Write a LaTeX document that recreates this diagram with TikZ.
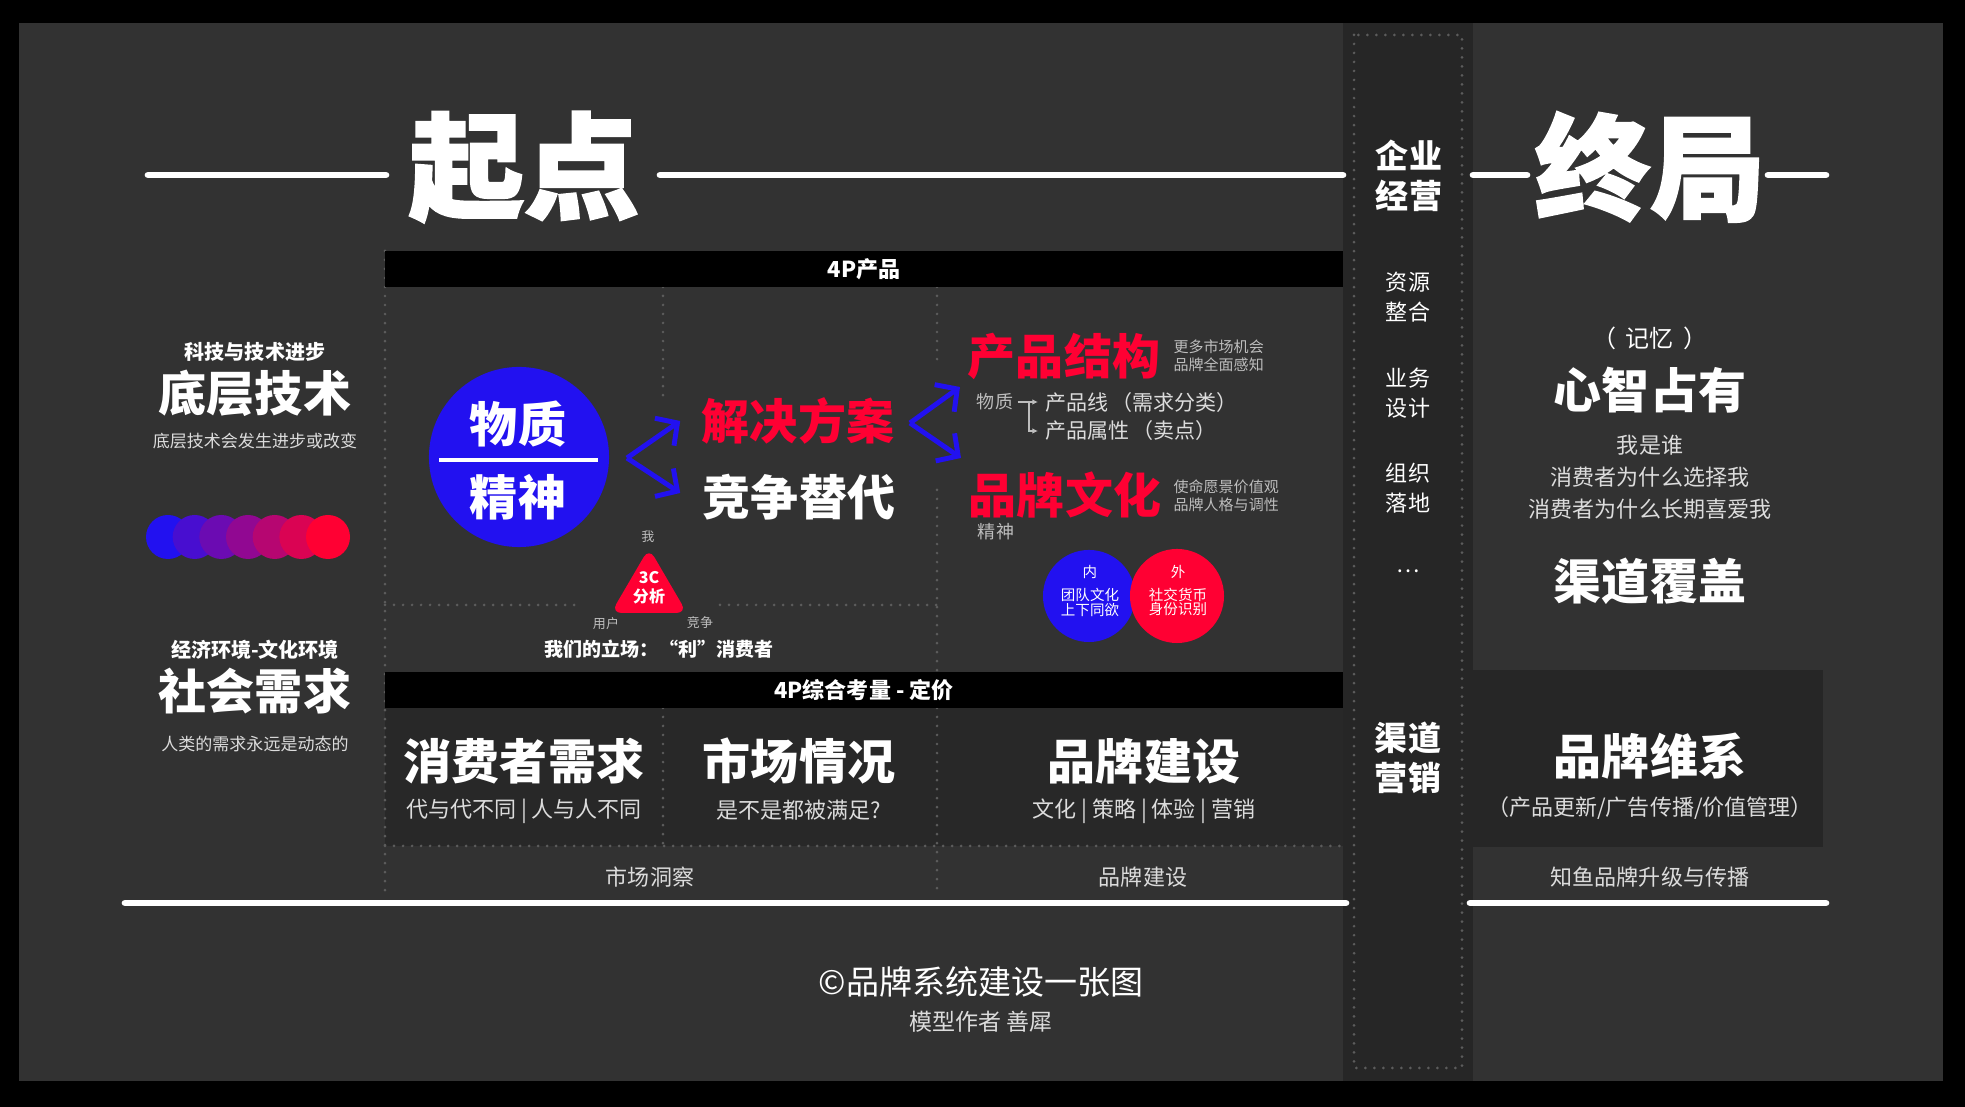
\documentclass[tikz,border=0pt]{standalone}
\usepackage{fontspec}
\setmainfont{Noto Sans CJK SC}
\newfontfamily\heavyfont{Noto Sans CJK SC}[BoldFeatures={FakeBold=2}]
\usetikzlibrary{arrows.meta}
\usetikzlibrary{positioning}

% font size given in pixels of the 1965px wide picture
\newcommand\fpx[2][1.3]{\fontsize{\fpeval{#2*0.28453}}{\fpeval{#2*#1*0.28453}}\selectfont}

\definecolor{panelgray}{HTML}{323232}
\definecolor{stripgray}{HTML}{262626}
\definecolor{boxgray}{HTML}{282828}
\definecolor{dotgray}{HTML}{5C5C5C}
\definecolor{subgray}{HTML}{DCDCDC}
\definecolor{notegray}{HTML}{BDBDBD}
\definecolor{brandblue}{HTML}{2211F0}
\definecolor{brandred}{HTML}{FF0033}

\tikzset{
  txt/.style={text=white, inner sep=0pt},
  title/.style={txt, font={\heavyfont\bfseries\fpx{115}}},
  heading/.style={txt, font={\bfseries\fpx{48}}},
  labelhead/.style={txt, font={\bfseries\fpx{20}}},
  leftsub/.style={text=subgray, inner sep=0pt, font={\fpx{17}}},
  subline/.style={text=subgray, inner sep=0pt, font={\fpx{22}}},
  note/.style={text=notegray, inner sep=0pt, align=left, font={\fpx[1.22]{15}}},
  tiny/.style={text=notegray, inner sep=0pt, font={\fpx{13}}},
  smalllabel/.style={text=notegray, inner sep=0pt, font={\fpx{18}}},
  listitem/.style={text=subgray, inner sep=0pt, font={\fpx{21}}},
  circletext/.style={txt, align=center, font={\fpx[1.03]{14.5}}},
  sidebar/.style={txt, align=center, font={\fpx[1.36]{22}}},
  sidehead/.style={txt, align=center, font={\bfseries\fpx[1.22]{33}}},
  blackbar/.style={fill=black, text=white, inner sep=0pt, minimum width=9.58cm,
    minimum height=0.36cm, font={\bfseries\fpx{22}}},
  dotline/.style={draw=dotgray, line width=0.85pt, line cap=round, dash pattern=on 0pt off 2.56pt},
  whiterule/.style={draw=white, line width=1.9pt, line cap=round},
  forkarrow/.style={draw=brandblue, line width=1.4pt, -{Straight Barb[length=4.5pt,width=9.5pt]}},
  bracketline/.style={draw=notegray, line width=0.5pt, -{Latex[length=1.6pt,width=1.6pt]}},
}

\begin{document}
\begin{tikzpicture}[x=0.01cm, y=-0.01cm]
  \useasboundingbox (0,0) rectangle (1965,1107);

  % Background panels
  \fill[black] (0,0) rectangle (1965,1107);
  \fill[panelgray] (19,23) rectangle (1943,1081);
  \fill[stripgray] (1343,23) rectangle (1473,1081);
  \fill[boxgray] (385,708) rectangle (1343,846);
  \fill[stripgray] (1473,670) rectangle (1823,847);

  % Dotted grid
  \draw[dotline] (1354,35) rectangle (1462,1068);
  \draw[dotline] (385,251) -- (385,897);
  \draw[dotline] (663,287) -- (663,397);
  \draw[dotline] (663,708) -- (663,846);
  \draw[dotline] (937,287) -- (937,362);
  \draw[dotline] (937,490) -- (937,672);
  \draw[dotline] (937,708) -- (937,897);
  \draw[dotline] (385,605) -- (578,605);
  \draw[dotline] (720,605) -- (937,605);
  \draw[dotline] (385,846) -- (1343,846);

  % Black bars
  \node[blackbar] (prodbar) at (864,269) {4P产品};
  \node[blackbar] (pricebar) at (864,690) {4P综合考量 - 定价};

  % Title row
  \draw[whiterule] (148,175) -- (386,175);
  \draw[whiterule] (660,175) -- (1343,175);
  \draw[whiterule] (1473,175) -- (1527,175);
  \draw[whiterule] (1768,175) -- (1826,175);
  \node[title] (start) at (524,167) {起点};
  \node[title] (finale) at (1650,167) {终局};

  % Operations strip
  \node[sidehead] (ops) at (1409,176) {企业\\经营};
  \foreach \name/\lab/\y in {res/资源\\整合/297, biz/业务\\设计/393, org/组织\\落地/488} {
    \node[sidebar] (side-\name) at (1408,\y) {\lab};
  }
  \node[sidebar] (side-more) at (1408,571) {…};
  \node[sidehead] (side-channel) at (1408,758) {渠道\\营销};

  % Left column
  \node[heading] (tech) at (255,393) {底层技术};
  \node[labelhead, above=0.07cm of tech] (techtop) {科技与技术进步};
  \node[leftsub, below=0.15cm of tech] (techsub) {底层技术会发生进步或改变};
  \foreach \i in {0,...,6} {
    \pgfmathtruncatemacro{\pct}{round(\i*100/6)}
    \fill[brandred!\pct!brandblue] ({168+26.67*\i},537) circle (22);
  }
  \node[heading] (social) at (255,691) {社会需求};
  \node[labelhead, above=0.07cm of social] (socialtop) {经济环境-文化环境};
  \node[leftsub, below=0.21cm of social] (socialsub) {人类的需求永远是动态的};

  % Matter / spirit circle
  \node[circle, fill=brandblue, minimum size=1.8cm, inner sep=0pt] (core) at (519,457) {};
  \draw[white, line width=1.1pt] (439,460) -- (598,460);
  \node[heading] (matter) at (518,424) {物质};
  \node[heading] (spirit) at (518,497) {精神};

  % First fork
  \coordinate (forkL) at (627,458);
  \node[heading, text=brandred] (solution) at (798,421) {解决方案};
  \node[heading] (rival) at (799,497) {竞争替代};
  \draw[forkarrow] (forkL) -- ([xshift=-0.21cm]solution.west);
  \draw[forkarrow] (forkL) -- ([xshift=-0.22cm, yshift=0.04cm]rival.west);

  % 3C analysis
  \fill[brandred, rounded corners=3pt] (649,548) -- (687,613) -- (611,613) -- cycle;
  \node[txt, align=center, font={\bfseries\fpx[1.19]{16}}] (threec) at (649,588) {3C\\分析};
  \node[tiny] (me) at (648,537) {我};
  \node[tiny] (user) at (606,624) {用户};
  \node[tiny] (comp) at (700,623) {竞争};
  \node[txt, font={\bfseries\fpx{19}}] (stance) at (659,649) {我们的立场：“利”消费者};

  % Second fork
  \coordinate (forkR) at (910,423);
  \coordinate (forkRa) at (960,387);
  \coordinate (forkRb) at (961,458);
  \draw[forkarrow] (forkR) -- (forkRa);
  \draw[forkarrow] (forkR) -- (forkRb);

  % Product structure
  \node[heading, text=brandred] (structure) at (1064,356) {产品结构};
  \node[note, anchor=west] (structnote) at (1173,356) {更多市场机会\\品牌全面感知};
  \node[smalllabel] (mat2) at (995,402) {物质};
  \node[listitem, anchor=west] (pline) at (1045,403) {产品线\kern0.15em（需求分类）};
  \node[listitem, anchor=west] (pattr) at (1045,431) {产品属性\kern0.15em（卖点）};
  \coordinate (brk) at (1029,402);
  \draw[bracketline, shorten <=1.1pt, shorten >=2pt] (mat2.east) -- (pline.west |- mat2.east);
  \draw[bracketline, shorten >=2pt] (brk) |- (pattr.west);

  % Brand culture
  \node[heading, text=brandred] (culture) at (1065,495) {品牌文化};
  \node[note, anchor=west] (culturenote) at (1173,496) {使命愿景价值观\\品牌人格与调性};
  \node[smalllabel] (spirit2) at (996,532) {精神};
  \node[circle, fill=brandblue, minimum size=0.92cm, inner sep=0pt] (inner) at (1089,596) {};
  \node[circle, fill=brandred, minimum size=0.94cm, inner sep=0pt] (outer) at (1177,596) {};
  \node[circletext] (innerhead) at (1090,572) {内};
  \node[circletext] (innerbody) at (1090,602) {团队文化\\上下同欲};
  \node[circletext] (outerhead) at (1178,572) {外};
  \node[circletext] (outerbody) at (1178,602) {社交货币\\身份识别};

  % Pricing panel
  \node[heading] (need) at (524,761) {消费者需求};
  \node[subline, below=0.14cm of need] (needsub) {代与代不同 | 人与人不同};
  \node[heading] (market) at (799,761) {市场情况};
  \node[subline, below=0.14cm of market] (marketsub) {是不是都被满足?};
  \node[heading] (brandbuild) at (1144,761) {品牌建设};
  \node[subline, below=0.14cm of brandbuild] (brandsub) {文化 | 策略 | 体验 | 营销};
  \node[subline] (insight) at (650,877) {市场洞察};
  \node[subline] (brandfoot) at (1143,877) {品牌建设};
  \draw[whiterule] (125,903) -- (1346,903);
  \draw[whiterule] (1470,903) -- (1826,903);

  % Right column
  \node[txt, font={\fpx{24}}] (memory) at (1650,338) {（\kern0.4em 记忆\kern0.4em ）};
  \node[heading] (mind) at (1650,390) {心智占有};
  \node[subline, align=center, font={\fpx[1.45]{22}}] (whome) at (1650,477)
    {我是谁\\消费者为什么选择我\\消费者为什么长期喜爱我};
  \node[heading] (coverage) at (1650,581) {渠道覆盖};
  \node[heading] (keep) at (1650,756) {品牌维系};
  \node[subline] (keepsub) at (1650,808) {（产品更新/广告传播/价值管理）};
  \node[subline] (zhiyu) at (1650,877) {知鱼品牌升级与传播};

  % Credits
  \node[txt, font={\fpx{33}}] (credit) at (981,982) {©品牌系统建设一张图};
  \node[subline, font={\fpx{23}}] (author) at (981,1022) {模型作者 善犀};
\end{tikzpicture}
\end{document}
